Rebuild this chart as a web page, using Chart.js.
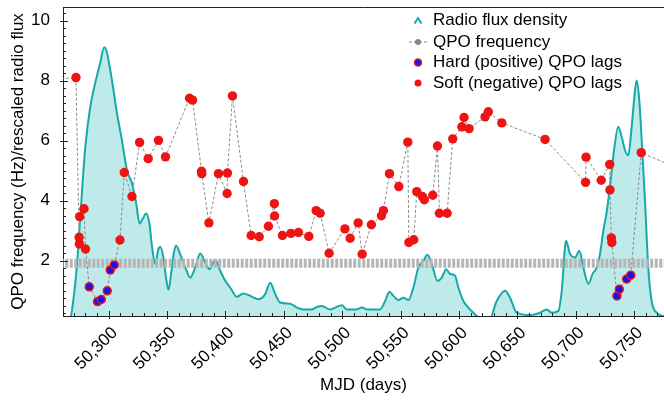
<!DOCTYPE html>
<html>
<head>
<meta charset="utf-8">
<script src="https://cdn.jsdelivr.net/npm/chart.js@4"></script>
<style>
  body { margin: 0; background: #fff; }
</style>
</head>
<body>
<canvas id="chart" width="664" height="404"></canvas>
<script>
// radio flux density (rescaled), sampled along the curve
const radioDays = [50255, 50267, 50269.9, 50272.8, 50275.6, 50279.9, 50284.2, 50288.4, 50292.7, 50296.1, 50298.5,
  50302.7, 50307, 50311.3, 50315.6, 50319.9, 50323.5, 50326.4, 50328.7, 50332.1, 50334.7, 50337.2, 50339.8,
  50342.4, 50344.1, 50346.7, 50349.2, 50351.2, 50353.5, 50356.1, 50357.8, 50361.2, 50365.5, 50369.8, 50374.1,
  50378.4, 50382.6, 50386.3, 50391.2, 50395.5, 50399.8, 50404, 50409.8, 50415.4, 50421.2, 50428.3, 50434,
  50438.3, 50442.6, 50446.9, 50455.4, 50461.2, 50466.8, 50474, 50478.3, 50482.6, 50489.7, 50494, 50499.7,
  50504, 50512.5, 50516.8, 50521.1, 50532.5, 50536.8, 50540.5, 50543.9, 50548.2, 50552.4, 50556.7, 50561,
  50565.3, 50569.6, 50573, 50576.8, 50581.6, 50585.3, 50589, 50592.4, 50596.7, 50599.5, 50603.8, 50608.1,
  50612.4, 50618.1, 50626.7, 50632.4, 50639.5, 50643.8, 50649.5, 50660.9, 50669.5, 50675.2, 50679.5, 50685.2,
  50688.1, 50691.8, 50695.2, 50699.5, 50703.2, 50706.6, 50710.9, 50714.6, 50718.1, 50720.9, 50723.7, 50726.6,
  50730, 50732.9, 50736.5, 50739.5, 50742.3, 50745.1, 50748, 50750.9, 50752.3, 50754.5, 50756.6, 50759.4,
  50762.2, 50765.1, 50769.4, 50775.1, 50790];
const radioFlux = [0, 0.1, 0.77, 1.9, 3.45, 5.79, 7.13, 7.92, 8.59, 9.11, 8.92,
  8.02, 6.92, 6.01, 5.01, 4.58, 3.91, 3.24, 3.37, 3.57, 3.27, 2.43, 1.89,
  2.37, 2.47, 2.13, 1.4, 1.03, 1.6, 2.33, 2.5, 2.22, 1.78, 1.44, 1.78,
  2.24, 1.94, 1.72, 2.03, 1.67, 1.33, 1.11, 0.8, 0.91, 0.83, 0.72, 0.89,
  1.27, 0.89, 0.61, 0.57, 0.44, 0.38, 0.38, 0.46, 0.49, 0.38, 0.44, 0.52,
  0.38, 0.38, 0.44, 0.38, 0.38, 0.66, 0.97, 0.83, 0.69, 0.77, 0.69, 1.11,
  1.78, 2.0, 2.2, 1.89, 1.33, 1.44, 1.72, 1.56, 1.5, 1.11, 0.66, 0.44,
  0.27, 0.1, 0.1, 0.66, 1.0, 0.77, 0.27, 0.19, 0.27, 0.38, 0.27, 0.33,
  1.0, 2.67, 2.23, 2.11, 2.33, 1.78, 1.23, 1.57, 1.78, 2.23, 3.0, 3.62,
  4.68, 5.68, 6.46, 6.12, 5.68, 5.51, 6.46, 7.69, 8.0, 7.35, 6.01, 4.01,
  1.78, 0.66, 0.27, 0.16, 0.1];

// QPO frequency (Hz) in time order; lag: h = hard (positive), s = soft (negative)
const qpoDays = [50255, 50271.9, 50274.6, 50274.8, 50275, 50278.8, 50280.1, 50283.3, 50290.4, 50293.6, 50298.7,
  50301.3, 50304.7, 50309.6, 50313.3, 50319.9, 50326.4, 50333.8, 50342.6, 50348.6, 50369.2, 50371.8,
  50379.5, 50379.7, 50385.8, 50394, 50401.4, 50401.7, 50406, 50415.4, 50422, 50428.9, 50436.8, 50441.9,
  50442.1, 50448.8, 50456, 50462.5, 50471.4, 50477.7, 50481.1, 50488.8, 50502.3, 50506.8, 50513.7,
  50517.1, 50525, 50533.6, 50535.3, 50540.5, 50548.5, 50556.2, 50557.1, 50561.3, 50563.9, 50568.7,
  50570.4, 50577.6, 50581.6, 50583.3, 50589.9, 50594.7, 50602.5, 50604.4, 50608.7, 50622.4, 50625.2,
  50636.7, 50673.8, 50708.5, 50708.9, 50721.9, 50729.2, 50729.4, 50730.6, 50731, 50735.4, 50737.4,
  50743.7, 50747.2, 50756.2, 50790];
const qpoFreq = [8.05, 8.1, 2.78, 2.56, 3.47, 3.73, 2.39, 1.13, 0.64, 0.71, 1.0,
  1.69, 1.86, 2.69, 4.94, 4.14, 5.94, 5.4, 6.01, 5.46, 7.41, 7.35,
  4.98, 4.9, 3.26, 4.9, 4.24, 4.92, 7.49, 4.64, 2.84, 2.8, 3.15, 3.9,
  3.49, 2.84, 2.91, 2.94, 2.81, 3.67, 3.58, 2.25, 3.06, 2.75, 3.26,
  2.22, 3.2, 3.5, 3.67, 4.9, 4.47, 5.95, 2.61, 2.7, 4.3, 4.14,
  4.03, 4.18, 5.82, 3.58, 3.58, 6.06, 6.46, 6.77, 6.4, 6.79, 6.96,
  6.59, 6.04, 4.61, 5.45, 4.68, 5.21, 4.36, 2.76, 2.61, 0.83, 1.05,
  1.39, 1.52, 5.6, 5.04];
const lagType = ['', 's', 's', 's', 's', 's', 's', 'h', 'h', 'h', 'h',
  'h', 'h', 's', 's', 's', 's', 's', 's', 's', 's', 's',
  's', 's', 's', 's', 's', 's', 's', 's', 's', 's', 's', 's',
  's', 's', 's', 's', 's', 's', 's', 's', 's', 's', 's',
  's', 's', 's', 's', 's', 's', 's', 's', 's', 's', 's',
  's', 's', 's', 's', 's', 's', 's', 's', 's', 's', 's',
  's', 's', 's', 's', 's', 's', 's', 's', 's', 'h', 'h',
  'h', 'h', 's', ''];

const bandLevel = 1.92;
const legendLabels = ['Radio flux density', 'QPO frequency', 'Hard (positive) QPO lags', 'Soft (negative) QPO lags'];

const FONT = '"Liberation Sans", Arial, sans-serif';
const TEAL = '#17a9aa';
const FILL = '#bfeaea';
const RED = '#ee1414';
const BLUE = '#1414ee';

const pts = (xs, ys) => xs.map((x, i) => ({ x: x, y: ys[i] }));
const qpoAll = pts(qpoDays, qpoFreq);
const hardPts = qpoAll.filter((p, i) => lagType[i] === 'h');
const softPts = qpoAll.filter((p, i) => lagType[i] === 's');

const frame = {
  id: 'frame',
  afterDraw(chart) {
    const ctx = chart.ctx;
    const a = chart.chartArea;
    const xs = chart.scales.x, ys = chart.scales.y;
    ctx.save();
    ctx.strokeStyle = '#222';
    ctx.lineWidth = 1;
    ctx.beginPath();
    ctx.moveTo(a.left, a.top + 0.5);
    ctx.lineTo(a.right, a.top + 0.5);
    // x ticks, minor every 10 days
    for (let d = 50270; d <= 50770; d += 10) {
      const px = Math.round(xs.getPixelForValue(d)) + 0.5;
      const major = d % 50 === 0;
      ctx.moveTo(px, a.bottom + (major ? 3 : 0));
      ctx.lineTo(px, a.bottom - (major ? 5 : 3));
    }
    // y ticks, minor every 0.25
    for (let v = 0.25; v <= 10.3; v += 0.25) {
      const py = Math.round(ys.getPixelForValue(v)) + 0.5;
      const major = Math.abs(v % 2) < 1e-6;
      ctx.moveTo(a.left - (major ? 3 : 0), py);
      ctx.lineTo(a.left + (major ? 5 : 3), py);
    }
    ctx.stroke();

    // legend inside plot, top right
    ctx.font = '17px ' + FONT;
    ctx.textBaseline = 'middle';
    ctx.fillStyle = '#000';
    const rowY = [20.5, 42, 62.5, 83];
    const mx = 418, tx = 433;
    legendLabels.forEach((t, i) => ctx.fillText(t, tx, rowY[i]));
    // caret
    ctx.strokeStyle = TEAL;
    ctx.lineWidth = 2;
    ctx.beginPath();
    ctx.moveTo(mx - 3.5, rowY[0] + 3);
    ctx.lineTo(mx, rowY[0] - 2.5);
    ctx.lineTo(mx + 3.5, rowY[0] + 3);
    ctx.stroke();
    // dashed line + dot
    ctx.strokeStyle = '#888';
    ctx.lineWidth = 1;
    ctx.setLineDash([3, 2]);
    ctx.beginPath();
    ctx.moveTo(mx - 9, rowY[1]);
    ctx.lineTo(mx + 9, rowY[1]);
    ctx.stroke();
    ctx.setLineDash([]);
    ctx.fillStyle = '#888';
    ctx.beginPath(); ctx.arc(mx, rowY[1], 3, 0, Math.PI * 2); ctx.fill();
    ctx.fillStyle = BLUE;
    ctx.strokeStyle = RED;
    ctx.lineWidth = 1.5;
    ctx.beginPath(); ctx.arc(mx, rowY[2], 3.5, 0, Math.PI * 2); ctx.fill(); ctx.stroke();
    ctx.fillStyle = RED;
    ctx.beginPath(); ctx.arc(mx, rowY[3], 3.5, 0, Math.PI * 2); ctx.fill();
    ctx.restore();
  }
};

new Chart(document.getElementById('chart').getContext('2d'), {
  type: 'line',
  data: {
    datasets: [
      {
        label: 'Soft (negative) QPO lags',
        type: 'scatter',
        data: softPts,
        backgroundColor: RED,
        borderColor: RED,
        borderWidth: 0,
        pointRadius: 4.7,
        order: 0
      },
      {
        label: 'Hard (positive) QPO lags',
        type: 'scatter',
        data: hardPts,
        backgroundColor: BLUE,
        borderColor: RED,
        borderWidth: 1.5,
        pointRadius: 4,
        order: 1
      },
      {
        label: 'QPO frequency',
        data: qpoAll,
        borderColor: '#8a8a8a',
        borderWidth: 1,
        borderDash: [3, 2],
        pointRadius: 0,
        fill: false,
        tension: 0,
        order: 2
      },
      {
        label: 'band',
        data: [{ x: 50255, y: bandLevel }, { x: 50790, y: bandLevel }],
        borderColor: '#b5b5b5',
        borderWidth: 9,
        borderDash: [3, 1.5],
        borderCapStyle: 'butt',
        pointRadius: 0,
        fill: false,
        order: 3
      },
      {
        label: 'Radio flux density',
        data: pts(radioDays, radioFlux),
        borderColor: TEAL,
        backgroundColor: FILL,
        borderWidth: 2,
        pointRadius: 0,
        fill: 'start',
        cubicInterpolationMode: 'monotone',
        order: 4
      }
    ]
  },
  options: {
    responsive: false,
    animation: false,
    devicePixelRatio: 1,
    layout: { autoPadding: false, padding: { top: 7, right: 0, left: 0, bottom: 0 } },
    plugins: { legend: { display: false }, tooltip: { enabled: false } },
    scales: {
      x: {
        type: 'linear',
        min: 50260.8,
        max: 50775.7,
        afterFit: s => { s.height = 88; s.paddingLeft = 0; s.paddingRight = 0; },
        grid: { display: false, drawTicks: false },
        border: { display: true, color: '#222', width: 1 },
        ticks: {
          stepSize: 50,
          includeBounds: false,
          minRotation: 45,
          maxRotation: 45,
          padding: 7,
          labelOffset: 6,
          color: '#000',
          font: { family: FONT, size: 17 }
        },
        title: {
          display: true,
          text: 'MJD (days)',
          color: '#000',
          font: { family: FONT, size: 17 },
          padding: { top: 0, bottom: 8 }
        }
      },
      y: {
        min: 0.16,
        max: 10.45,
        afterFit: s => { s.width = 63; s.paddingTop = 0; s.paddingBottom = 0; },
        grid: { display: false, drawTicks: false },
        border: { display: true, color: '#222', width: 1 },
        ticks: {
          stepSize: 2,
          includeBounds: false,
          padding: 13,
          color: '#000',
          font: { family: FONT, size: 17 }
        },
        title: {
          display: true,
          text: 'QPO frequency (Hz)/rescaled radio flux',
          color: '#000',
          font: { family: FONT, size: 17 },
          padding: { top: 8, bottom: 0 }
        }
      }
    }
  },
  plugins: [frame]
});
</script>
</body>
</html>
